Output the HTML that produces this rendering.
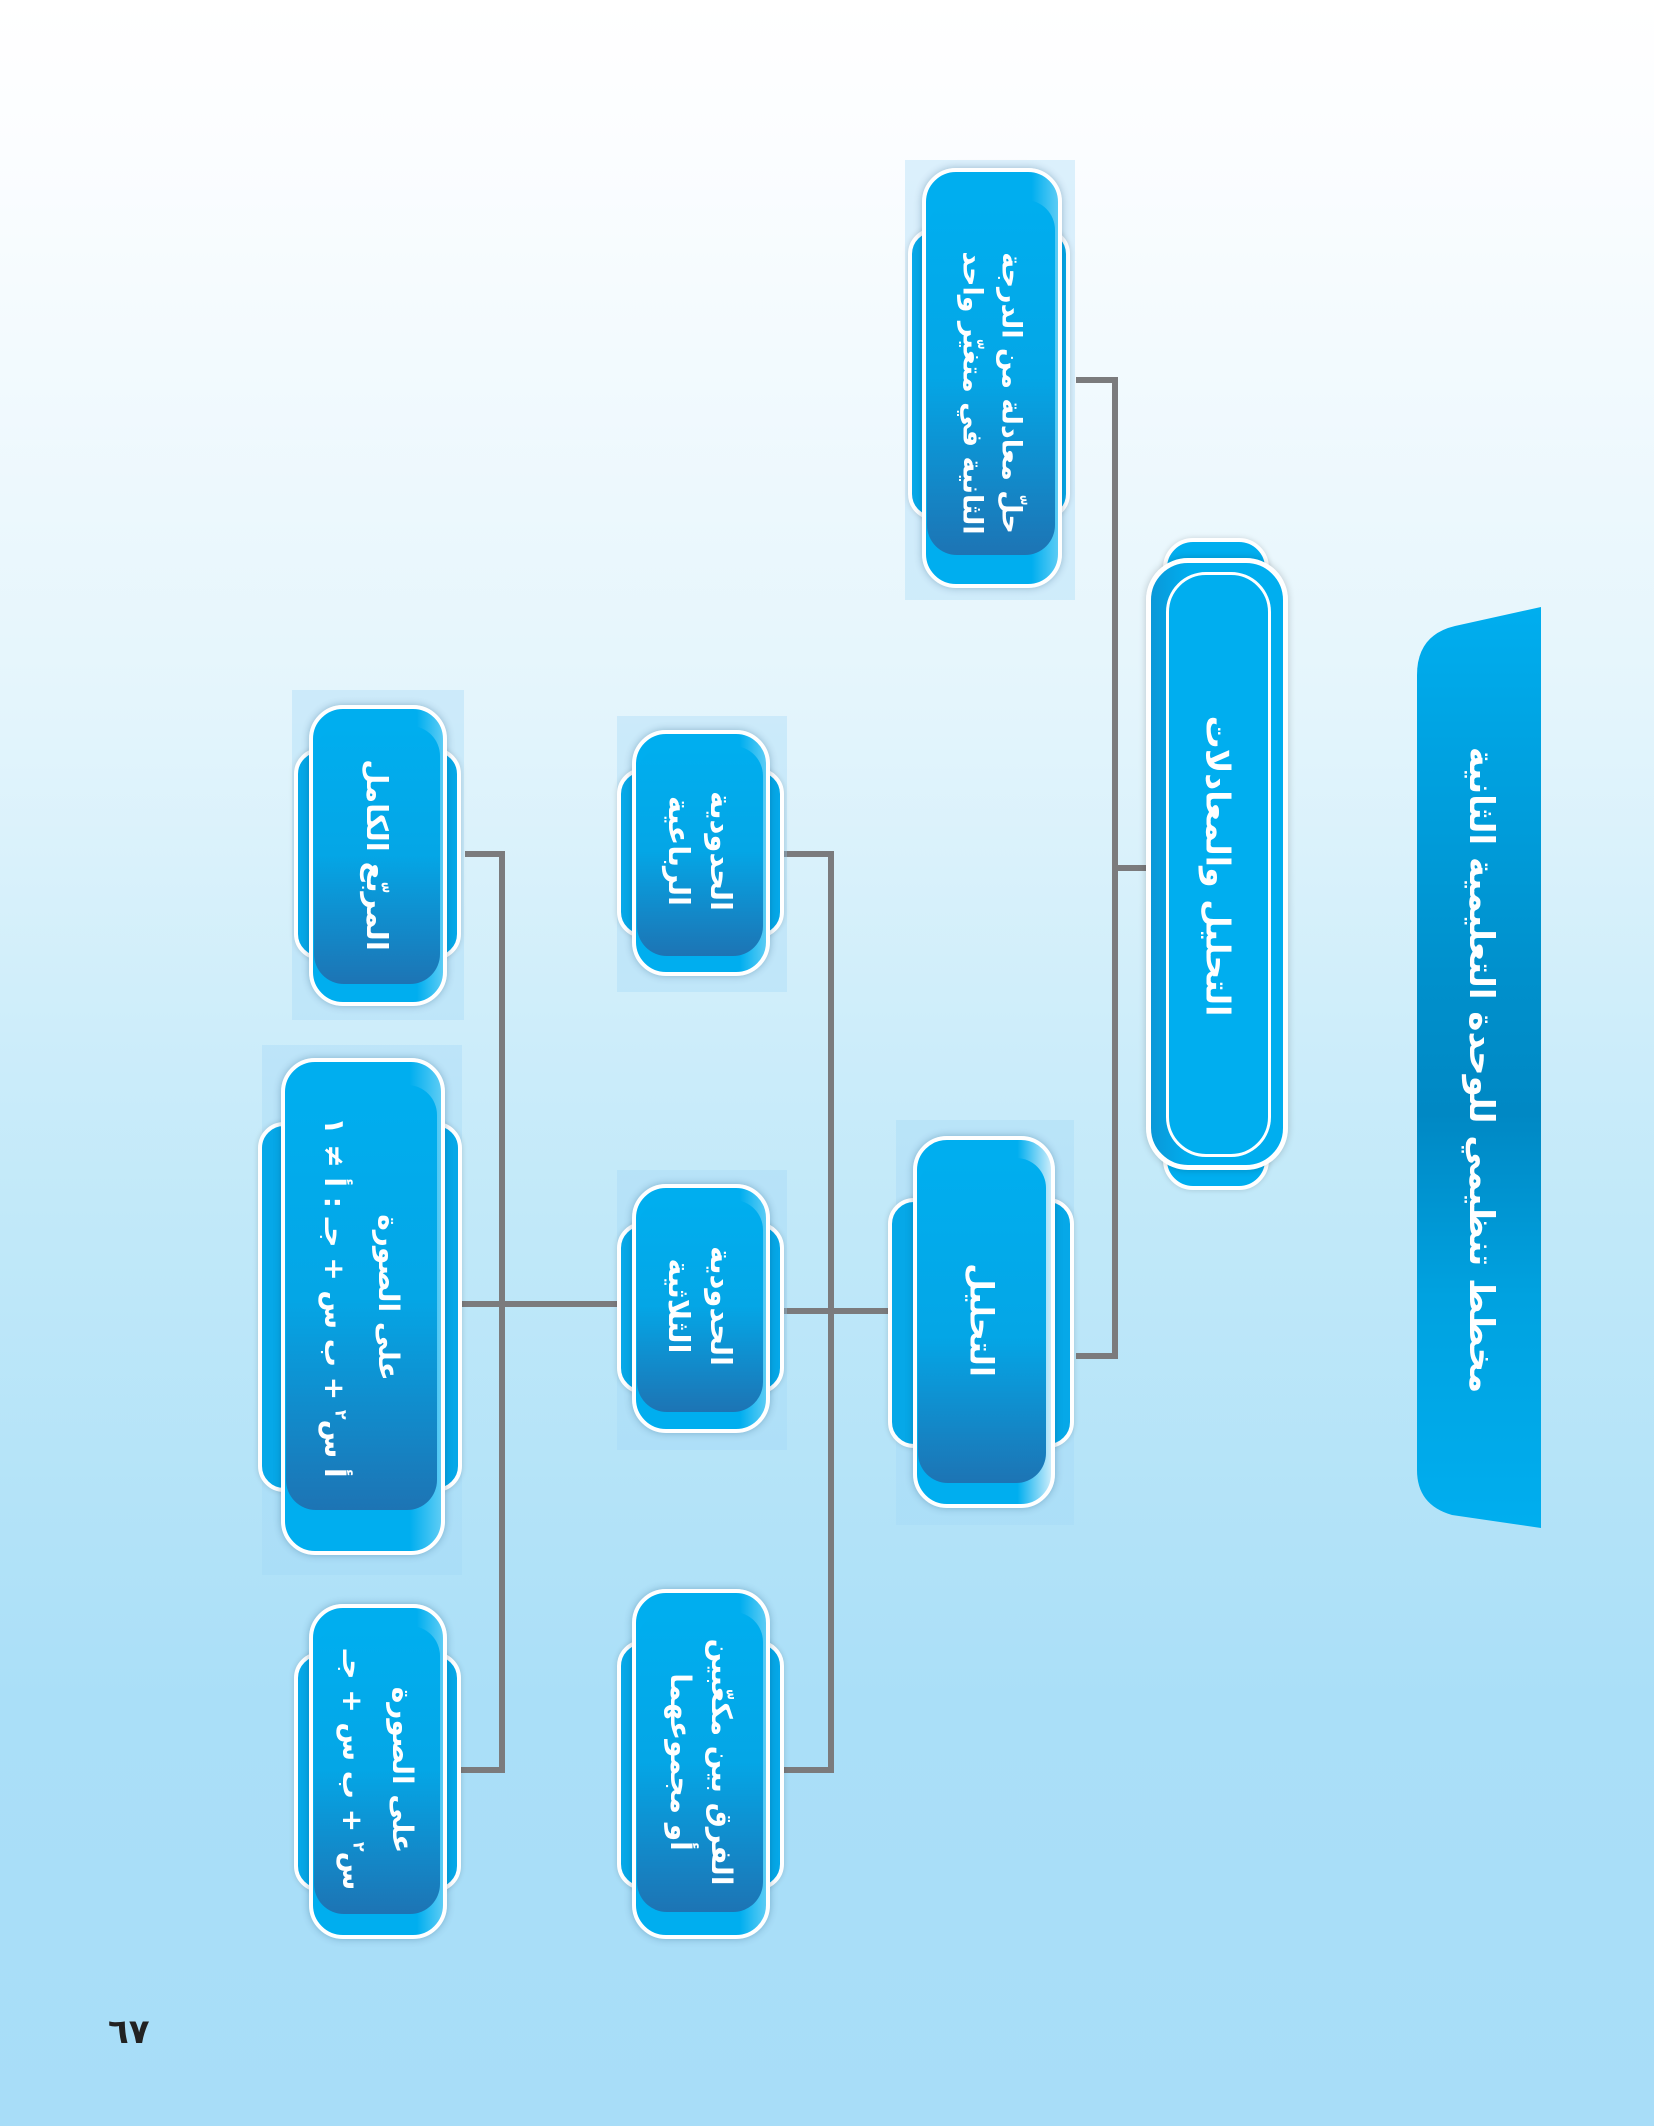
<!DOCTYPE html>
<html><head><meta charset="utf-8">
<style>
*{margin:0;padding:0;box-sizing:border-box}
body{width:1654px;height:2126px;position:relative;overflow:hidden;
background:linear-gradient(to bottom,#ffffff 0px,#fbfdff 150px,#e4f5fc 700px,#c2e9f9 1200px,#aadff8 1700px,#a8ddf8 2126px);
font-family:"Liberation Sans","DejaVu Sans",sans-serif}
.ab{position:absolute}
.ln{position:absolute;background:#7b7b7d}
.back{position:absolute;background:#06a8e8;border:4px solid #fff;border-radius:26px;box-shadow:0 0 6px rgba(0,0,0,.15)}
.front{position:absolute;background:linear-gradient(to right,#00aeef 80%,#5cccf5);border:4px solid #fff;border-radius:34px;box-shadow:0 0 8px rgba(0,60,100,.3)}
.inner{position:absolute;border-radius:30px;background:linear-gradient(to bottom,#00aeef 0%,#04a6e6 50%,#1d74b4 100%)}
.txt{position:absolute;display:flex;align-items:center;justify-content:center;
color:#fff;font-weight:bold;font-family:"DejaVu Sans","Noto Sans CJK SC",sans-serif;direction:rtl;text-align:center;transform:rotate(90deg);line-height:1.45;white-space:nowrap}
.sh{position:absolute;background:rgba(160,215,245,.35)}
</style></head><body>

<!-- connectors -->
<div class="ln" style="left:1112px;top:377px;width:6px;height:982px"></div>
<div class="ln" style="left:1076px;top:377px;width:42px;height:6px"></div>
<div class="ln" style="left:1112px;top:865px;width:36px;height:6px"></div>
<div class="ln" style="left:1076px;top:1353px;width:42px;height:6px"></div>

<div class="ln" style="left:828px;top:851px;width:6px;height:922px"></div>
<div class="ln" style="left:784px;top:851px;width:50px;height:6px"></div>
<div class="ln" style="left:784px;top:1308px;width:106px;height:6px"></div>
<div class="ln" style="left:784px;top:1767px;width:50px;height:6px"></div>

<div class="ln" style="left:499px;top:851px;width:6px;height:922px"></div>
<div class="ln" style="left:465px;top:851px;width:40px;height:6px"></div>
<div class="ln" style="left:461px;top:1301px;width:158px;height:6px"></div>
<div class="ln" style="left:461px;top:1767px;width:44px;height:6px"></div>

<!-- title banner -->
<svg class="ab" style="left:1410px;top:600px" width="140" height="935" viewBox="0 0 140 935">
<defs><linearGradient id="tg" x1="0" y1="0" x2="0" y2="1">
<stop offset="0" stop-color="#00aeef"/><stop offset="0.4" stop-color="#0090cc"/><stop offset="0.55" stop-color="#0088c4"/><stop offset="0.75" stop-color="#00a2e0"/><stop offset="1" stop-color="#00aeef"/></linearGradient></defs>
<path d="M131 7 L131 928 L42 915 Q7 905 7 870 L7 75 Q7 35 45 26 Z" fill="url(#tg)"/>
</svg>
<div class="txt" style="left:1090px;top:1040px;width:780px;height:60px;font-size:34px">مخطط تنظيمي للوحدة التعليمية الثانية</div>

<!-- main node -->
<div class="back" style="left:1163px;top:538px;width:106px;height:652px;border-radius:30px;background:#00aeef"></div>
<div class="ab" style="left:1146px;top:558px;width:142px;height:612px;border-radius:42px;border:5px solid #fff;background:linear-gradient(to right,#0a98d8,#00aeef 30%,#00aeef);box-shadow:0 0 8px rgba(0,0,0,.2)"></div>
<div class="ab" style="left:1166px;top:572px;width:105px;height:585px;border-radius:40px;border:3px solid #fff;background:#00aeef"></div>
<div class="txt" style="left:925px;top:836px;width:585px;height:60px;font-size:33px">التحليل والمعادلات</div>

<!-- Node A -->
<div class="sh" style="left:905px;top:160px;width:170px;height:440px"></div>
<div class="back" style="left:908px;top:228px;width:162px;height:292px"></div>
<div class="front" style="left:922px;top:168px;width:140px;height:420px"></div>
<div class="inner" style="left:927px;top:200px;width:128px;height:355px"></div>
<div class="txt" style="left:814px;top:329px;width:355px;height:128px;font-size:27px"><div>حلّ معادلة من الدرجة<br>الثانية في متغيّر واحد</div></div>

<!-- Node B -->
<div class="sh" style="left:896px;top:1120px;width:178px;height:405px"></div>
<div class="back" style="left:888px;top:1198px;width:186px;height:250px"></div>
<div class="front" style="left:913px;top:1136px;width:142px;height:372px;background:linear-gradient(to right,#00aeef 75%,#c9ecfb)"></div>
<div class="inner" style="left:918px;top:1158px;width:128px;height:325px;background:linear-gradient(to bottom,#00aeef 0%,#04a6e6 55%,#1d74b4 100%)"></div>
<div class="txt" style="left:819px;top:1290px;width:325px;height:60px;font-size:32px">التحليل</div>

<!-- Node C -->
<div class="sh" style="left:617px;top:716px;width:170px;height:276px"></div>
<div class="back" style="left:617px;top:768px;width:167px;height:170px"></div>
<div class="front" style="left:632px;top:730px;width:138px;height:246px"></div>
<div class="inner" style="left:637px;top:746px;width:126px;height:210px"></div>
<div class="txt" style="left:595px;top:796px;width:210px;height:110px;font-size:29px"><div>الحدودية<br>الرباعية</div></div>

<!-- Node D -->
<div class="sh" style="left:617px;top:1170px;width:170px;height:280px"></div>
<div class="back" style="left:617px;top:1222px;width:167px;height:172px"></div>
<div class="front" style="left:632px;top:1184px;width:138px;height:249px"></div>
<div class="inner" style="left:637px;top:1200px;width:126px;height:212px"></div>
<div class="txt" style="left:594px;top:1251px;width:212px;height:110px;font-size:29px"><div>الحدودية<br>الثلاثية</div></div>

<!-- Node E -->
<div class="back" style="left:617px;top:1640px;width:167px;height:250px"></div>
<div class="front" style="left:632px;top:1589px;width:138px;height:350px"></div>
<div class="inner" style="left:637px;top:1612px;width:126px;height:300px"></div>
<div class="txt" style="left:550px;top:1707px;width:300px;height:110px;font-size:28px"><div>الفرق بين مكعّبين<br>أو مجموعهما</div></div>

<!-- Node F -->
<div class="sh" style="left:292px;top:690px;width:172px;height:330px"></div>
<div class="back" style="left:294px;top:748px;width:167px;height:212px"></div>
<div class="front" style="left:309px;top:705px;width:138px;height:301px"></div>
<div class="inner" style="left:314px;top:726px;width:126px;height:258px"></div>
<div class="txt" style="left:248px;top:825px;width:258px;height:60px;font-size:29px">المربّع الكامل</div>

<!-- Node G -->
<div class="sh" style="left:262px;top:1045px;width:200px;height:530px"></div>
<div class="back" style="left:258px;top:1122px;width:204px;height:370px"></div>
<div class="front" style="left:281px;top:1058px;width:164px;height:497px"></div>
<div class="inner" style="left:286px;top:1085px;width:151px;height:425px"></div>
<div class="txt" style="left:149px;top:1222px;width:425px;height:151px;font-size:28px;line-height:1.9"><div>على الصورة<br>أ س<sup style="font-size:16px">٢</sup> + ب س + جـ : أ ≠ ١</div></div>

<!-- Node H -->
<div class="back" style="left:294px;top:1652px;width:167px;height:240px"></div>
<div class="front" style="left:309px;top:1604px;width:138px;height:335px"></div>
<div class="inner" style="left:314px;top:1626px;width:126px;height:288px"></div>
<div class="txt" style="left:233px;top:1707px;width:288px;height:126px;font-size:28px;line-height:1.8"><div>على الصورة<br>س<sup style="font-size:16px">٢</sup> + ب س + جـ</div></div>

<!-- page number -->
<div class="ab" style="left:108px;top:2012px;font-size:34px;font-weight:bold;color:#222;font-family:'DejaVu Sans',sans-serif;direction:ltr;unicode-bidi:bidi-override">٦٧</div>
</body></html>
